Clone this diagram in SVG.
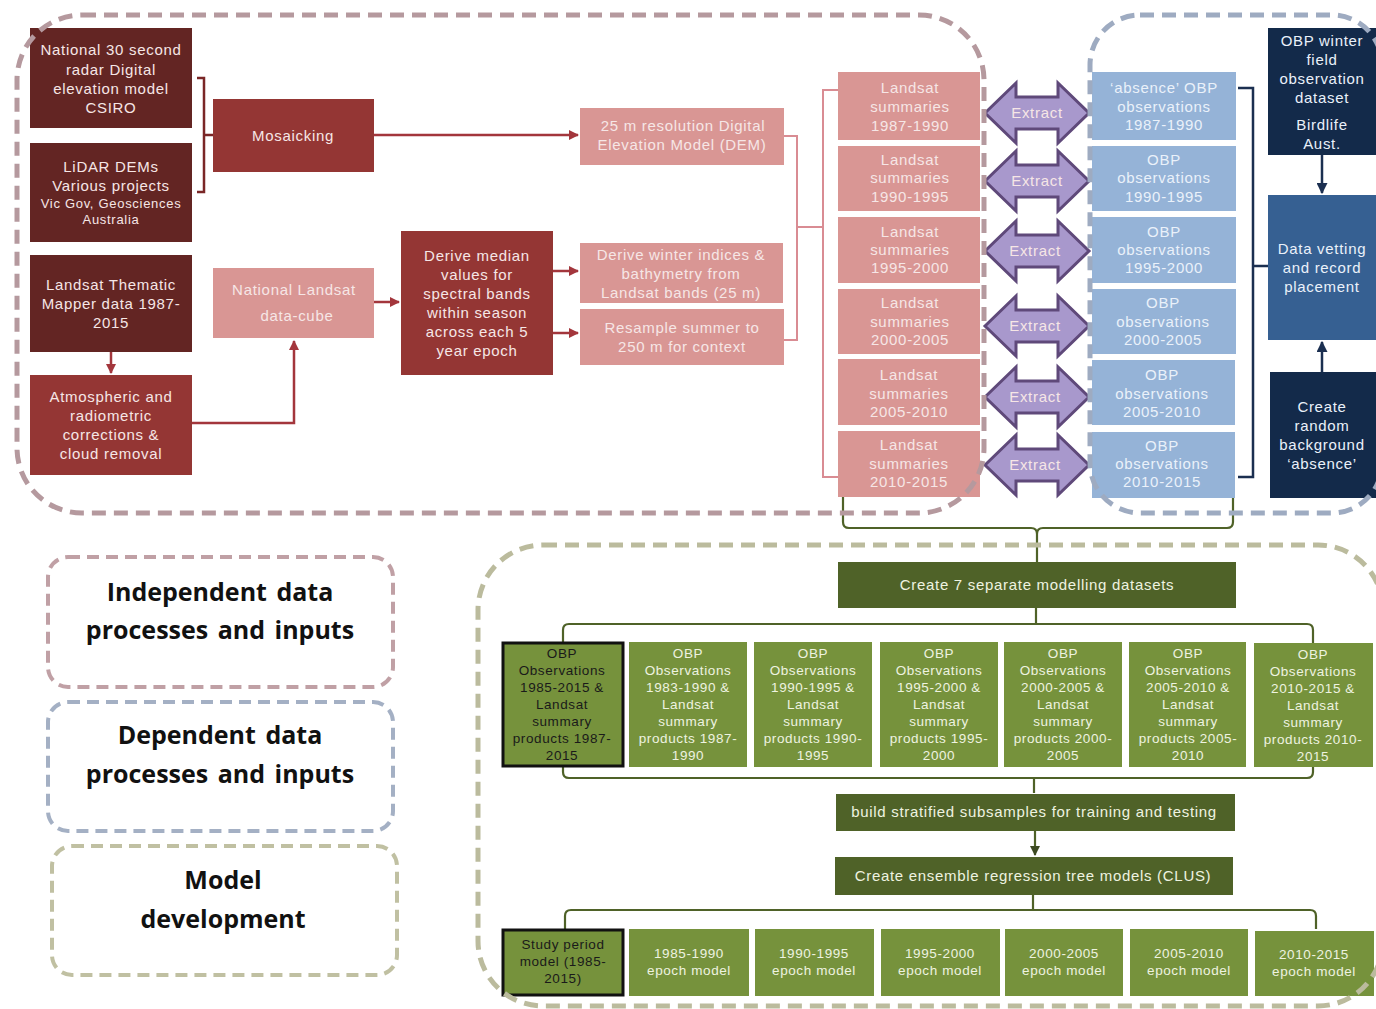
<svg xmlns="http://www.w3.org/2000/svg" width="1376" height="1009" viewBox="0 0 1376 1009">
<defs>
<style>
.t{font-family:"Liberation Sans",Arial,sans-serif;font-size:15px;fill:#f6e6e6;text-anchor:middle;letter-spacing:0.7px}
.tb{fill:#eaf1fa}
.tg{font-size:13.5px;fill:#eef3e0;letter-spacing:0.6px}
.tk{fill:#1a1a1a}
.leg{font-family:"Open Sans","Liberation Sans",sans-serif;font-weight:bold;font-size:25px;fill:#111;text-anchor:middle;word-spacing:3px}
.dm{fill:#632523}.mr{fill:#943634}.pk{fill:#d99694}
.lb{fill:#95b3d7}.nv{fill:#132a4a}.mb{fill:#366092}
.og{fill:#76923c}.dg{fill:#4f6228}
.cr{fill:none;stroke:#a3363c;stroke-width:2.5}
.cp{fill:none;stroke:#d98c93;stroke-width:2}
.cn{fill:none;stroke:#1b2f50;stroke-width:2.5}
.cg{fill:none;stroke:#4f6228;stroke-width:2.2}
.reg{fill:none;stroke-width:5;stroke-dasharray:14 8}
.ext{fill:#a898cc;stroke:#5f497a;stroke-width:3;stroke-linejoin:miter}
</style>
<marker id="ar" viewBox="0 0 10 10" refX="9" refY="5" markerWidth="10" markerHeight="10" markerUnits="userSpaceOnUse" orient="auto"><path d="M0,0 L10,5 L0,10 Z" fill="#a3363c"/></marker>
<marker id="an" viewBox="0 0 10 10" refX="9" refY="5" markerWidth="11" markerHeight="11" markerUnits="userSpaceOnUse" orient="auto"><path d="M0,0 L10,5 L0,10 Z" fill="#1b2f50"/></marker>
<marker id="ag" viewBox="0 0 10 10" refX="9" refY="5" markerWidth="10" markerHeight="10" markerUnits="userSpaceOnUse" orient="auto"><path d="M0,0 L10,5 L0,10 Z" fill="#3d4a22"/></marker>
<path id="dbl" d="M-52,0 L-21,-30 L-21,-16 L21,-16 L21,-30 L52,0 L21,30 L21,16 L-21,16 L-21,30 Z"/>
</defs>
<rect width="1376" height="1009" fill="#ffffff"/>

<g id="connectors">
<path class="cr" d="M197,78 H204 V192 H197 M204,135 H213" style="stroke:#7a2626"/>
<path class="cr" d="M374,135 H578" marker-end="url(#ar)"/>
<path class="cr" d="M111,352 V373" marker-end="url(#ar)"/>
<path class="cr" d="M192,423 H294 V341" marker-end="url(#ar)"/>
<path class="cr" d="M374,302 H399" marker-end="url(#ar)"/>
<path class="cr" d="M553,271 H578" marker-end="url(#ar)"/>
<path class="cr" d="M553,333 H578" marker-end="url(#ar)"/>
<path class="cp" d="M784,136 H797 V340 H784 M797,227 H823 M838,90 H823 V477 H838"/>
<path class="cn" d="M1238,88 H1253 V477 H1238 M1253,266 H1268"/>
<path class="cn" d="M1322,155 V193" marker-end="url(#an)"/>
<path class="cn" d="M1322,372 V342" marker-end="url(#an)"/>
<path class="cg" d="M843,497 V522 Q843,528 849,528 H1031 Q1037,528 1037,534 V562 M1233,497 V522 Q1233,528 1227,528 H1043 Q1037,528 1037,534"/>
<path class="cg" d="M1036,608 V624 M563,642 V630 Q563,624 569,624 H1307 Q1313,624 1313,630 V643"/>
<path class="cg" d="M563,767 V772 Q563,778 569,778 H1307 Q1313,778 1313,772 V767 M1034,778 V793"/>
<path class="cg" d="M1035,831 V855" marker-end="url(#ag)"/>
<path class="cg" d="M1033,895 V910 M565,929 V916 Q565,910 571,910 H1310 Q1316,910 1316,916 V929"/>
</g>

<g id="n-csiro"><rect class="dm" x="30" y="28" width="162" height="100"/>
<text class="t" x="111" y="55">National 30 second</text><text class="t" x="111" y="75">radar Digital</text><text class="t" x="111" y="94">elevation model</text><text class="t" x="111" y="113">CSIRO</text></g>
<g id="n-lidar"><rect class="dm" x="30" y="143" width="162" height="99"/>
<text class="t" x="111" y="172">LiDAR DEMs</text><text class="t" x="111" y="191">Various projects</text><text class="t" x="111" y="208" style="font-size:13px">Vic Gov, Geosciences</text><text class="t" x="111" y="224" style="font-size:13px">Australia</text></g>
<g id="n-mosaic"><rect class="mr" x="213" y="99" width="161" height="73"/><text class="t" x="293" y="141">Mosaicking</text></g>
<g id="n-dem"><rect class="pk" x="580" y="108" width="204" height="57"/><text class="t" x="683" y="131">25 m resolution Digital</text><text class="t" x="682" y="150">Elevation Model (DEM)</text></g>
<g id="n-tm"><rect class="dm" x="30" y="255" width="162" height="97"/><text class="t" x="111" y="290">Landsat Thematic</text><text class="t" x="111" y="309">Mapper data 1987-</text><text class="t" x="111" y="328">2015</text></g>
<g id="n-atmos"><rect class="mr" x="30" y="375" width="162" height="100"/><text class="t" x="111" y="402">Atmospheric and</text><text class="t" x="111" y="421">radiometric</text><text class="t" x="111" y="440">corrections &amp;</text><text class="t" x="111" y="459">cloud removal</text></g>
<g id="n-cube"><rect class="pk" x="213" y="268" width="161" height="70"/><text class="t" x="294" y="295">National Landsat</text><text class="t" x="297" y="321">data-cube</text></g>
<g id="n-median"><rect class="mr" x="401" y="231" width="152" height="144"/><text class="t" x="477" y="261">Derive median</text><text class="t" x="477" y="280">values for</text><text class="t" x="477" y="299">spectral bands</text><text class="t" x="477" y="318">within season</text><text class="t" x="477" y="337">across each 5</text><text class="t" x="477" y="356">year epoch</text></g>
<g id="n-winter"><rect class="pk" x="580" y="243" width="203" height="60"/><text class="t" x="681" y="260">Derive winter indices &amp;</text><text class="t" x="681" y="279">bathymetry from</text><text class="t" x="681" y="298">Landsat bands (25 m)</text></g>
<g id="n-resample"><rect class="pk" x="580" y="309" width="204" height="56"/><text class="t" x="682" y="333">Resample summer to</text><text class="t" x="682" y="352">250 m for context</text></g>

<g id="n-ls1"><rect class="pk" x="838" y="72" width="142" height="68"/><text class="t" x="910" y="93">Landsat</text><text class="t" x="910" y="112">summaries</text><text class="t" x="910" y="131">1987-1990</text></g>
<g id="n-ls2"><rect class="pk" x="838" y="146" width="142" height="65"/><text class="t" x="910" y="165">Landsat</text><text class="t" x="910" y="183">summaries</text><text class="t" x="910" y="202">1990-1995</text></g>
<g id="n-ls3"><rect class="pk" x="838" y="217" width="142" height="66"/><text class="t" x="910" y="237">Landsat</text><text class="t" x="910" y="255">summaries</text><text class="t" x="910" y="273">1995-2000</text></g>
<g id="n-ls4"><rect class="pk" x="838" y="289" width="142" height="65"/><text class="t" x="910" y="308">Landsat</text><text class="t" x="910" y="327">summaries</text><text class="t" x="910" y="345">2000-2005</text></g>
<g id="n-ls5"><rect class="pk" x="838" y="359" width="142" height="66"/><text class="t" x="909" y="380">Landsat</text><text class="t" x="909" y="399">summaries</text><text class="t" x="909" y="417">2005-2010</text></g>
<g id="n-ls6"><rect class="pk" x="838" y="431" width="142" height="66"/><text class="t" x="909" y="450">Landsat</text><text class="t" x="909" y="469">summaries</text><text class="t" x="909" y="487">2010-2015</text></g>

<g id="n-obp1"><rect class="lb" x="1092" y="72" width="144" height="68"/><text class="t tb" x="1164" y="93">‘absence’ OBP</text><text class="t tb" x="1164" y="112">observations</text><text class="t tb" x="1164" y="130">1987-1990</text></g>
<g id="n-obp2"><rect class="lb" x="1092" y="146" width="144" height="65"/><text class="t tb" x="1164" y="165">OBP</text><text class="t tb" x="1164" y="183">observations</text><text class="t tb" x="1164" y="202">1990-1995</text></g>
<g id="n-obp3"><rect class="lb" x="1092" y="217" width="144" height="66"/><text class="t tb" x="1164" y="237">OBP</text><text class="t tb" x="1164" y="255">observations</text><text class="t tb" x="1164" y="273">1995-2000</text></g>
<g id="n-obp4"><rect class="lb" x="1092" y="289" width="144" height="65"/><text class="t tb" x="1163" y="308">OBP</text><text class="t tb" x="1163" y="327">observations</text><text class="t tb" x="1163" y="345">2000-2005</text></g>
<g id="n-obp5"><rect class="lb" x="1092" y="360" width="143" height="65"/><text class="t tb" x="1162" y="380">OBP</text><text class="t tb" x="1162" y="399">observations</text><text class="t tb" x="1162" y="417">2005-2010</text></g>
<g id="n-obp6"><rect class="lb" x="1092" y="432" width="143" height="66"/><text class="t tb" x="1162" y="451">OBP</text><text class="t tb" x="1162" y="469">observations</text><text class="t tb" x="1162" y="487">2010-2015</text></g>

<g id="n-winterobs"><rect class="nv" x="1268" y="28" width="108" height="127"/><text class="t tb" x="1322" y="46">OBP winter</text><text class="t tb" x="1322" y="65">field</text><text class="t tb" x="1322" y="84">observation</text><text class="t tb" x="1322" y="103">dataset</text><text class="t tb" x="1322" y="130">Birdlife</text><text class="t tb" x="1322" y="149">Aust.</text></g>
<g id="n-vetting"><rect class="mb" x="1268" y="195" width="108" height="145"/><text class="t tb" x="1322" y="254">Data vetting</text><text class="t tb" x="1322" y="273">and record</text><text class="t tb" x="1322" y="292">placement</text></g>
<g id="n-random"><rect class="nv" x="1270" y="372" width="106" height="126"/><text class="t tb" x="1322" y="412">Create</text><text class="t tb" x="1322" y="431">random</text><text class="t tb" x="1322" y="450">background</text><text class="t tb" x="1322" y="469">‘absence’</text></g>

<g id="n-extract1"><use href="#dbl" class="ext" x="1037" y="113"/><text class="t" x="1037" y="118">Extract</text></g>
<g id="n-extract2"><use href="#dbl" class="ext" x="1037" y="181"/><text class="t" x="1037" y="186">Extract</text></g>
<g id="n-extract3"><use href="#dbl" class="ext" x="1037" y="251"/><text class="t" x="1035" y="256">Extract</text></g>
<g id="n-extract4"><use href="#dbl" class="ext" x="1037" y="326"/><text class="t" x="1035" y="331">Extract</text></g>
<g id="n-extract5"><use href="#dbl" class="ext" x="1037" y="397"/><text class="t" x="1035" y="402">Extract</text></g>
<g id="n-extract6"><use href="#dbl" class="ext" x="1037" y="465"/><text class="t" x="1035" y="470">Extract</text></g>

<g id="n-create7"><rect class="dg" x="838" y="562" width="398" height="46"/><text class="t" x="1037" y="590" style="fill:#eef3e0">Create 7 separate modelling datasets</text></g>
<g id="n-ds1"><rect class="og" x="503" y="643" width="120" height="123" stroke="#111" stroke-width="3"/><text class="t tg tk" x="562" y="658">OBP</text><text class="t tg tk" x="562" y="675">Observations</text><text class="t tg tk" x="562" y="692">1985-2015 &amp;</text><text class="t tg tk" x="562" y="709">Landsat</text><text class="t tg tk" x="562" y="726">summary</text><text class="t tg tk" x="562" y="743">products 1987-</text><text class="t tg tk" x="562" y="760">2015</text></g>
<g id="n-ds2"><rect class="og" x="629" y="642" width="118" height="125"/><text class="t tg" x="688" y="658">OBP</text><text class="t tg" x="688" y="675">Observations</text><text class="t tg" x="688" y="692">1983-1990 &amp;</text><text class="t tg" x="688" y="709">Landsat</text><text class="t tg" x="688" y="726">summary</text><text class="t tg" x="688" y="743">products 1987-</text><text class="t tg" x="688" y="760">1990</text></g>
<g id="n-ds3"><rect class="og" x="754" y="642" width="118" height="125"/><text class="t tg" x="813" y="658">OBP</text><text class="t tg" x="813" y="675">Observations</text><text class="t tg" x="813" y="692">1990-1995 &amp;</text><text class="t tg" x="813" y="709">Landsat</text><text class="t tg" x="813" y="726">summary</text><text class="t tg" x="813" y="743">products 1990-</text><text class="t tg" x="813" y="760">1995</text></g>
<g id="n-ds4"><rect class="og" x="880" y="642" width="118" height="125"/><text class="t tg" x="939" y="658">OBP</text><text class="t tg" x="939" y="675">Observations</text><text class="t tg" x="939" y="692">1995-2000 &amp;</text><text class="t tg" x="939" y="709">Landsat</text><text class="t tg" x="939" y="726">summary</text><text class="t tg" x="939" y="743">products 1995-</text><text class="t tg" x="939" y="760">2000</text></g>
<g id="n-ds5"><rect class="og" x="1004" y="642" width="118" height="125"/><text class="t tg" x="1063" y="658">OBP</text><text class="t tg" x="1063" y="675">Observations</text><text class="t tg" x="1063" y="692">2000-2005 &amp;</text><text class="t tg" x="1063" y="709">Landsat</text><text class="t tg" x="1063" y="726">summary</text><text class="t tg" x="1063" y="743">products 2000-</text><text class="t tg" x="1063" y="760">2005</text></g>
<g id="n-ds6"><rect class="og" x="1129" y="642" width="117" height="125"/><text class="t tg" x="1188" y="658">OBP</text><text class="t tg" x="1188" y="675">Observations</text><text class="t tg" x="1188" y="692">2005-2010 &amp;</text><text class="t tg" x="1188" y="709">Landsat</text><text class="t tg" x="1188" y="726">summary</text><text class="t tg" x="1188" y="743">products 2005-</text><text class="t tg" x="1188" y="760">2010</text></g>
<g id="n-ds7"><rect class="og" x="1254" y="643" width="119" height="124"/><text class="t tg" x="1313" y="659">OBP</text><text class="t tg" x="1313" y="676">Observations</text><text class="t tg" x="1313" y="693">2010-2015 &amp;</text><text class="t tg" x="1313" y="710">Landsat</text><text class="t tg" x="1313" y="727">summary</text><text class="t tg" x="1313" y="744">products 2010-</text><text class="t tg" x="1313" y="761">2015</text></g>
<g id="n-strat"><rect class="dg" x="836" y="794" width="399" height="37"/><text class="t" x="1034" y="817" style="fill:#eef3e0">build stratified subsamples for training and testing</text></g>
<g id="n-ensemble"><rect class="dg" x="835" y="857" width="398" height="38"/><text class="t" x="1033" y="881" style="fill:#eef3e0">Create ensemble regression tree models (CLUS)</text></g>
<g id="n-m1"><rect class="og" x="503" y="930" width="120" height="65" stroke="#111" stroke-width="3"/><text class="t tg tk" x="563" y="949">Study period</text><text class="t tg tk" x="563" y="966">model (1985-</text><text class="t tg tk" x="563" y="983">2015)</text></g>
<g id="n-m2"><rect class="og" x="629" y="929" width="120" height="67"/><text class="t tg" x="689" y="958">1985-1990</text><text class="t tg" x="689" y="975">epoch model</text></g>
<g id="n-m3"><rect class="og" x="755" y="929" width="119" height="67"/><text class="t tg" x="814" y="958">1990-1995</text><text class="t tg" x="814" y="975">epoch model</text></g>
<g id="n-m4"><rect class="og" x="881" y="929" width="119" height="67"/><text class="t tg" x="940" y="958">1995-2000</text><text class="t tg" x="940" y="975">epoch model</text></g>
<g id="n-m5"><rect class="og" x="1005" y="929" width="118" height="67"/><text class="t tg" x="1064" y="958">2000-2005</text><text class="t tg" x="1064" y="975">epoch model</text></g>
<g id="n-m6"><rect class="og" x="1130" y="929" width="118" height="67"/><text class="t tg" x="1189" y="958">2005-2010</text><text class="t tg" x="1189" y="975">epoch model</text></g>
<g id="n-m7"><rect class="og" x="1255" y="931" width="119" height="65"/><text class="t tg" x="1314" y="959">2010-2015</text><text class="t tg" x="1314" y="976">epoch model</text></g>

<g id="regions">
<rect class="reg" x="17" y="15" width="967" height="498" rx="65" style="stroke:#b5999e"/>
<rect class="reg" x="1090" y="15" width="292" height="498" rx="50" style="stroke:#9eabc1"/>
<rect class="reg" x="478" y="545" width="905" height="461" rx="65" style="stroke:#bbbb9d"/>
</g>

<g id="legend">
<rect class="reg" x="48" y="557" width="345" height="130" rx="20" style="stroke:#c0a0a5;stroke-width:4;stroke-dasharray:12 7"/>
<text class="leg" x="220" y="601">Independent data</text><text class="leg" x="220" y="639">processes and inputs</text>
<rect class="reg" x="48" y="702" width="345" height="129" rx="20" style="stroke:#a4b0c4;stroke-width:4;stroke-dasharray:12 7"/>
<text class="leg" x="220" y="744">Dependent data</text><text class="leg" x="220" y="783">processes and inputs</text>
<rect class="reg" x="52" y="846" width="345" height="129" rx="20" style="stroke:#c0c0a2;stroke-width:4;stroke-dasharray:12 7"/>
<text class="leg" x="223" y="889">Model</text><text class="leg" x="223" y="928">development</text>
</g>
</svg>
